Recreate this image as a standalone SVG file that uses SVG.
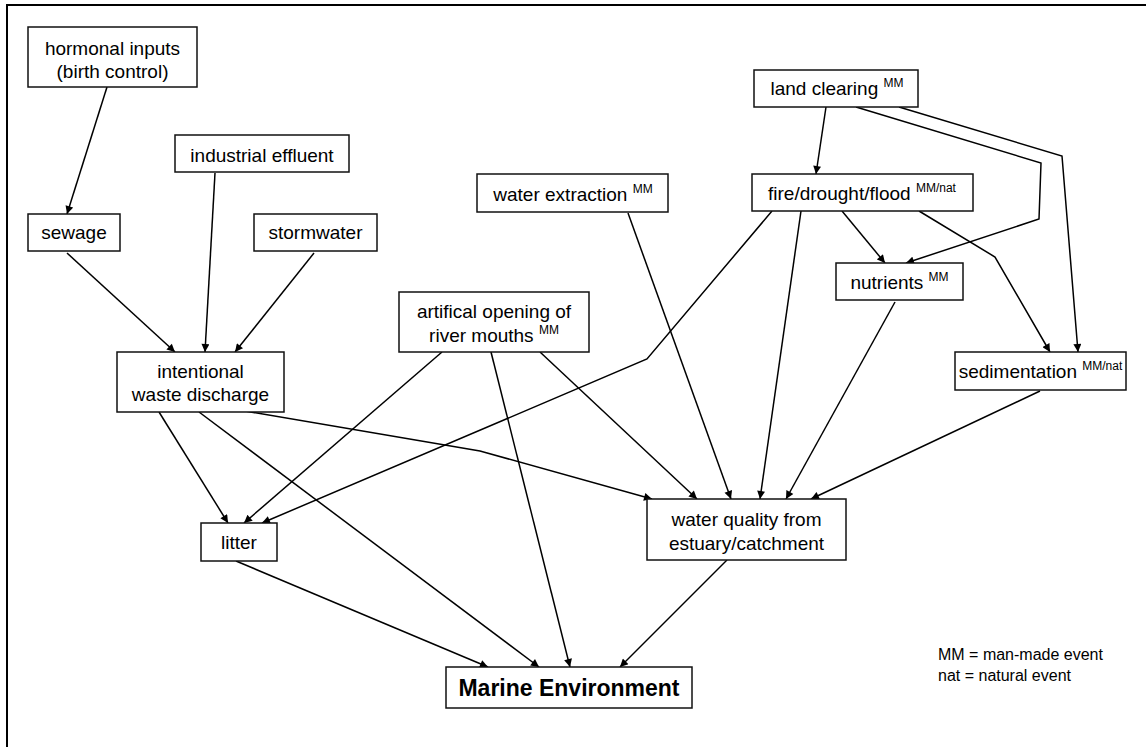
<svg xmlns="http://www.w3.org/2000/svg" width="1146" height="747" viewBox="0 0 1146 747">
  <style>
    .box { fill: #ffffff; stroke: #111111; stroke-width: 1.5; }
    .lbl { font-family: "Liberation Sans", Arial, sans-serif; font-size: 19px; fill: #000000; text-anchor: middle; }
    .sup { font-size: 12px; }
    .title { font-family: "Liberation Sans", Arial, sans-serif; font-size: 23px; font-weight: bold; fill: #000000; text-anchor: middle; }
    .legend { font-family: "Liberation Sans", Arial, sans-serif; font-size: 16px; fill: #000000; }
    .edge { fill: none; stroke: #000000; stroke-width: 1.5; }
    .arr { marker-end: url(#head); }
  </style>
  <defs>
    <marker id="head" viewBox="0 0 10 10" refX="10" refY="5" markerWidth="9" markerHeight="8" markerUnits="userSpaceOnUse" orient="auto">
      <path d="M0,0 L10,5 L0,10 z" fill="#000000"/>
    </marker>
  </defs>

  <rect width="1146" height="747" fill="#ffffff"/>
  <!-- page frame -->
  <rect x="7" y="5" width="1150" height="760" fill="none" stroke="#000000" stroke-width="2"/>

  <g id="connectors">
    <line class="edge arr" x1="107" y1="87" x2="67" y2="214"/>
    <line class="edge arr" x1="215" y1="173" x2="205" y2="352"/>
    <line class="edge arr" x1="67" y1="253" x2="175" y2="352"/>
    <line class="edge arr" x1="314" y1="253" x2="235" y2="352"/>
    <line class="edge arr" x1="159" y1="412" x2="228" y2="523"/>
    <line class="edge arr" x1="199" y1="412" x2="539" y2="667"/>
    <polyline class="edge arr" points="245,411 480,451 652,499"/>
    <line class="edge arr" x1="442" y1="352" x2="244" y2="523"/>
    <line class="edge arr" x1="491" y1="352" x2="570" y2="667"/>
    <line class="edge arr" x1="540" y1="352" x2="697" y2="499"/>
    <line class="edge arr" x1="628" y1="213" x2="731" y2="499"/>
    <line class="edge arr" x1="801" y1="211" x2="760" y2="499"/>
    <line class="edge arr" x1="895" y1="302" x2="786" y2="499"/>
    <line class="edge arr" x1="1040" y1="391" x2="811" y2="499"/>
    <polyline class="edge arr" points="772,211 647,359 262,523"/>
    <line class="edge arr" x1="826" y1="107" x2="816" y2="174"/>
    <line class="edge arr" x1="842" y1="211" x2="885" y2="263"/>
    <polyline class="edge arr" points="856,107 1041,163 1039,219 906,263"/>
    <polyline class="edge arr" points="899,107 1062,156 1078,352"/>
    <polyline class="edge arr" points="919,211 995,257 1050,352"/>
    <line class="edge arr" x1="236" y1="561" x2="488" y2="667"/>
    <line class="edge arr" x1="727" y1="560" x2="620" y2="667"/>
  </g>

  <g id="hormonal-inputs">
    <rect class="box" x="28" y="27" width="169" height="60"/>
    <text class="lbl" x="112.5" y="55">hormonal inputs</text>
    <text class="lbl" x="112.5" y="78">(birth control)</text>
  </g>
  <g id="industrial-effluent">
    <rect class="box" x="175" y="135" width="174" height="37"/>
    <text class="lbl" x="262" y="162">industrial effluent</text>
  </g>
  <g id="sewage">
    <rect class="box" x="28" y="214" width="92" height="37"/>
    <text class="lbl" x="74" y="239">sewage</text>
  </g>
  <g id="stormwater">
    <rect class="box" x="254" y="214" width="123" height="37"/>
    <text class="lbl" x="315.5" y="239">stormwater</text>
  </g>
  <g id="intentional-waste-discharge">
    <rect class="box" x="117" y="352" width="167" height="60"/>
    <text class="lbl" x="200.5" y="378">intentional</text>
    <text class="lbl" x="200.5" y="401">waste discharge</text>
  </g>
  <g id="artificial-opening">
    <rect class="box" x="399" y="292" width="190" height="60"/>
    <text class="lbl" x="494" y="318">artifical opening of</text>
    <text class="lbl" x="494" y="342">river mouths <tspan class="sup" dy="-8">MM</tspan></text>
  </g>
  <g id="water-extraction">
    <rect class="box" x="477" y="174" width="191" height="38"/>
    <text class="lbl" x="573" y="201">water extraction <tspan class="sup" dy="-8">MM</tspan></text>
  </g>
  <g id="land-clearing">
    <rect class="box" x="754" y="70" width="164" height="37"/>
    <text class="lbl" x="837" y="95">land clearing <tspan class="sup" dy="-8">MM</tspan></text>
  </g>
  <g id="fire-drought-flood">
    <rect class="box" x="752" y="174" width="221" height="37"/>
    <text class="lbl" x="862" y="200">fire/drought/flood <tspan class="sup" dy="-8">MM/nat</tspan></text>
  </g>
  <g id="nutrients">
    <rect class="box" x="836" y="263" width="127" height="37"/>
    <text class="lbl" x="899.5" y="289">nutrients <tspan class="sup" dy="-8">MM</tspan></text>
  </g>
  <g id="sedimentation">
    <rect class="box" x="955" y="352" width="171" height="38"/>
    <text class="lbl" x="1040.5" y="378">sedimentation <tspan class="sup" dy="-8">MM/nat</tspan></text>
  </g>
  <g id="water-quality">
    <rect class="box" x="647" y="499" width="199" height="61"/>
    <text class="lbl" x="746.5" y="526">water quality from</text>
    <text class="lbl" x="746.5" y="550">estuary/catchment</text>
  </g>
  <g id="litter">
    <rect class="box" x="201" y="523" width="76" height="38"/>
    <text class="lbl" x="239" y="549">litter</text>
  </g>
  <g id="marine-environment">
    <rect class="box" x="446" y="667" width="246" height="41"/>
    <text class="title" x="569" y="696">Marine Environment</text>
  </g>

  <g id="legend">
    <text class="legend" x="938" y="660">MM = man-made event</text>
    <text class="legend" x="938" y="681">nat = natural event</text>
  </g>
</svg>
